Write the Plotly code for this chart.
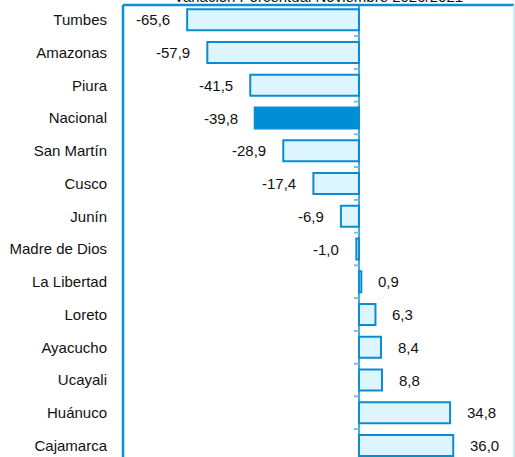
import plotly.graph_objects as go

regions = ["Tumbes", "Amazonas", "Piura", "Nacional", "San Martín", "Cusco", "Junín",
           "Madre de Dios", "La Libertad", "Loreto", "Ayacucho", "Ucayali", "Huánuco", "Cajamarca"]
values = [-65.6, -57.9, -41.5, -39.8, -28.9, -17.4, -6.9, -1.0, 0.9, 6.3, 8.4, 8.8, 34.8, 36.0]
title_text = "Variación Porcentual Noviembre 2020/2021"

LIGHT = "#DDF5FE"
EDGE = "#0A8BD2"
DARK = "#008FD5"
FONT = "Liberation Sans, Arial, sans-serif"

fills = [DARK if r == "Nacional" else LIGHT for r in regions]
idx = list(range(len(regions)))

fig = go.Figure()
fig.add_trace(go.Bar(
    x=values, y=idx, orientation="h",
    marker=dict(color=fills, line=dict(color=EDGE, width=2)),
    width=0.64, showlegend=False, hoverinfo="x+y",
))

annotations = []
for i, v in enumerate(values):
    lbl = f"{v:.1f}".replace(".", ",")
    annotations.append(dict(
        x=v, y=i, xref="x", yref="y", text=lbl, showarrow=False,
        xanchor="right" if v < 0 else "left", xshift=-15 if v < 0 else 15,
        font=dict(family=FONT, size=15, color="#111111"),
    ))
annotations.append(dict(
    x=0.5, y=1, xref="paper", yref="paper", text=title_text, showarrow=False,
    xanchor="center", yanchor="bottom", yshift=-2,
    font=dict(family=FONT, size=15, color="#111111"),
))

shapes = []
# category boundary ticks on the zero axis
for i in range(len(regions)):
    shapes.append(dict(type="line", xref="x", yref="y", xsizemode="pixel", xanchor=0,
                       x0=-5, x1=0, y0=i + 0.5, y1=i + 0.5,
                       line=dict(color="#6FBDE8", width=1.5)))
    shapes.append(dict(type="line", xref="x", yref="y", xsizemode="pixel", xanchor=0,
                       x0=-5, x1=0, y0=i - 0.5, y1=i - 0.5,
                       line=dict(color="#6FBDE8", width=1.5)))
# plot frame
shapes.append(dict(type="line", xref="paper", yref="paper", x0=0, x1=0, y0=0, y1=1,
                   line=dict(color="#0A8FD6", width=2.5), layer="above"))
shapes.append(dict(type="line", xref="paper", yref="paper", x0=0, x1=1, y0=1, y1=1,
                   line=dict(color="#0A8FD6", width=2.5), layer="above"))
shapes.append(dict(type="line", xref="paper", yref="paper", x0=1, x1=1, y0=0, y1=1,
                   line=dict(color="#CBE9F8", width=2), layer="above"))

fig.update_layout(
    width=515, height=457,
    margin=dict(l=123, r=1, t=5, b=0),
    paper_bgcolor="white", plot_bgcolor="white",
    font=dict(family=FONT, size=15, color="#111111"),
    xaxis=dict(range=[-90.1, 59.2], showgrid=False, showticklabels=False, ticks="",
               zeroline=True, zerolinecolor="#3FA9E0", zerolinewidth=2, fixedrange=True,
               automargin=False),
    yaxis=dict(range=[13.35, -0.45], tickmode="array", tickvals=idx, ticktext=regions,
               showgrid=False, zeroline=False, ticks="outside", ticklen=12,
               tickcolor="rgba(0,0,0,0)", tickfont=dict(family=FONT, size=15, color="#111111"),
               fixedrange=True, automargin=False),
    annotations=annotations, shapes=shapes, bargap=0.3,
)

fig.write_html("out.html", config={"displayModeBar": False},
               post_script="document.body.style.margin='0';document.body.style.overflow='hidden';")
